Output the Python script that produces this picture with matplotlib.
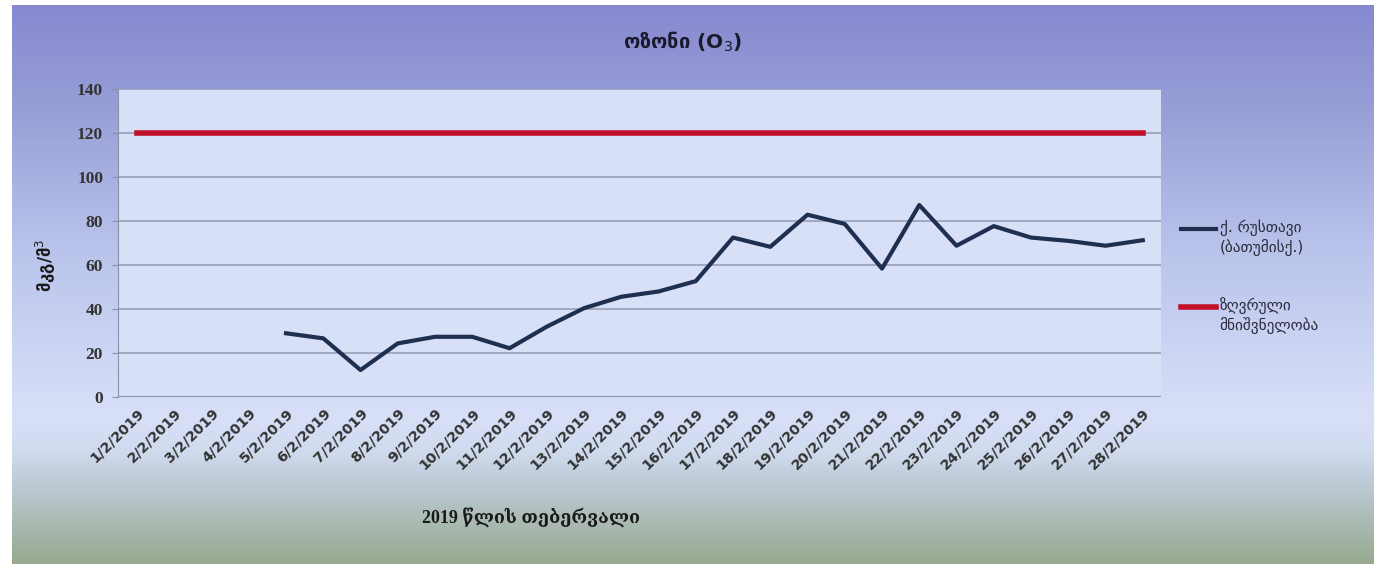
import numpy as np
import matplotlib.pyplot as plt
from matplotlib.colors import LinearSegmentedColormap
from matplotlib.legend_handler import HandlerLine2D

days = ['{0}/2/2019'.format(d) for d in range(1, 29)]
# daily ozone, first four days missing
rustavi = [np.nan, np.nan, np.nan, np.nan, 29.1, 26.8, 12.4, 24.5, 27.5, 27.5,
           22.3, 32.1, 40.5, 45.7, 48.1, 52.8, 72.6, 68.4, 83.0, 78.8,
           58.5, 87.4, 68.9, 77.8, 72.6, 71.1, 68.9, 71.4]
limit = [120] * 28

title = 'ოზონი (O$_3$)'
ylabel = 'მკგ/მ$^3$'
xlabel = '2019 წლის თებერვალი'
label_rustavi = 'ქ. რუსთავი\n(ბათუმისქ.)'
label_limit = 'ზღვრული\nმნიშვნელობა'

serif = ['Liberation Serif', 'DejaVu Serif', 'DejaVu Sans']
sans = ['DejaVu Sans']


class FirstLineHandler(HandlerLine2D):
    # put the legend line level with the first line of a two-line label
    def create_artists(self, legend, orig_handle, xdescent, ydescent,
                       width, height, fontsize, trans):
        return super().create_artists(legend, orig_handle, xdescent,
                                      ydescent - 1.2 * fontsize, width, height,
                                      fontsize, trans)


fig = plt.figure(figsize=(13.78, 5.64), dpi=100, facecolor='white')

# chart area background: purple-blue top fading to pale, grey-green at bottom
bg = fig.add_axes([12 / 1378, 0, 1362 / 1378, 559 / 564], zorder=-10)
stops = [(0.0, '#8789cf'), (0.18, '#979ed6'), (0.45, '#bbc5ec'),
         (0.74, '#d8e0f8'), (0.80, '#d0dbee'), (0.85, '#c0ccd9'),
         (1.0, '#97aa90')]
cmap = LinearSegmentedColormap.from_list('bg', stops)
bg.imshow(np.linspace(0, 1, 400).reshape(-1, 1), aspect='auto', cmap=cmap,
          extent=[0, 1, 1, 0])
bg.set_axis_off()

ax = fig.add_axes([118.4 / 1378, 166.7 / 564, 1043 / 1378, 308 / 564])
ax.set_facecolor('#d8e0f8')
x = np.arange(len(days))
ax.plot(x, rustavi, color='#1f2f4f', lw=3.0, label=label_rustavi, zorder=3)
ax.plot(x, limit, color='#c0102a', lw=4.0, label=label_limit, zorder=3)

ax.set_xlim(-0.5, 27.5)
ax.set_ylim(0, 140)
ax.set_yticks(range(0, 141, 20))
ax.set_xticks(x)
ax.set_xticklabels(days, rotation=45, ha='right', rotation_mode='anchor',
                   fontsize=10.3, fontweight='bold', color='#333333', family=sans)
for t in ax.get_yticklabels():
    t.set_family(serif)
    t.set_fontweight('bold')
    t.set_fontsize(12.5)
    t.set_color('#333333')
ax.tick_params(axis='y', length=4, color='#8a90a8', pad=7)
ax.tick_params(axis='x', length=0, pad=6)
ax.yaxis.grid(True, color='#9a9fb8', lw=1.2)
ax.set_axisbelow(True)
for s in ['top', 'right', 'bottom']:
    ax.spines[s].set_visible(False)
ax.spines['left'].set_color('#8a90a8')
ax.axhline(0, color='#8a90a8', lw=1.5, zorder=2)

fig.text(0.495, 0.926, title, ha='center', va='center', fontsize=14.5,
         fontweight='bold', color='#1a1a2e', family=sans)
fig.text(0.033, 0.53, ylabel, ha='center', va='center', rotation=90,
         fontsize=12, fontweight='bold', color='#1a1a1a', family=sans)
fig.text(0.385, 0.083, xlabel, ha='center', va='center', fontsize=13,
         fontweight='bold', color='#1a1a1a', family=serif)

leg = ax.legend(loc='upper left', bbox_to_anchor=(1173 / 1378, 352 / 564),
                bbox_transform=fig.transFigure, frameon=False, borderpad=0,
                handlelength=2.3, handletextpad=0.25, labelspacing=2.7,
                prop={'size': 11}, handler_map={plt.Line2D: FirstLineHandler()})
for t in leg.get_texts():
    t.set_color('#2a2a3a')

fig.savefig('out.png', dpi=100, facecolor=fig.get_facecolor())
